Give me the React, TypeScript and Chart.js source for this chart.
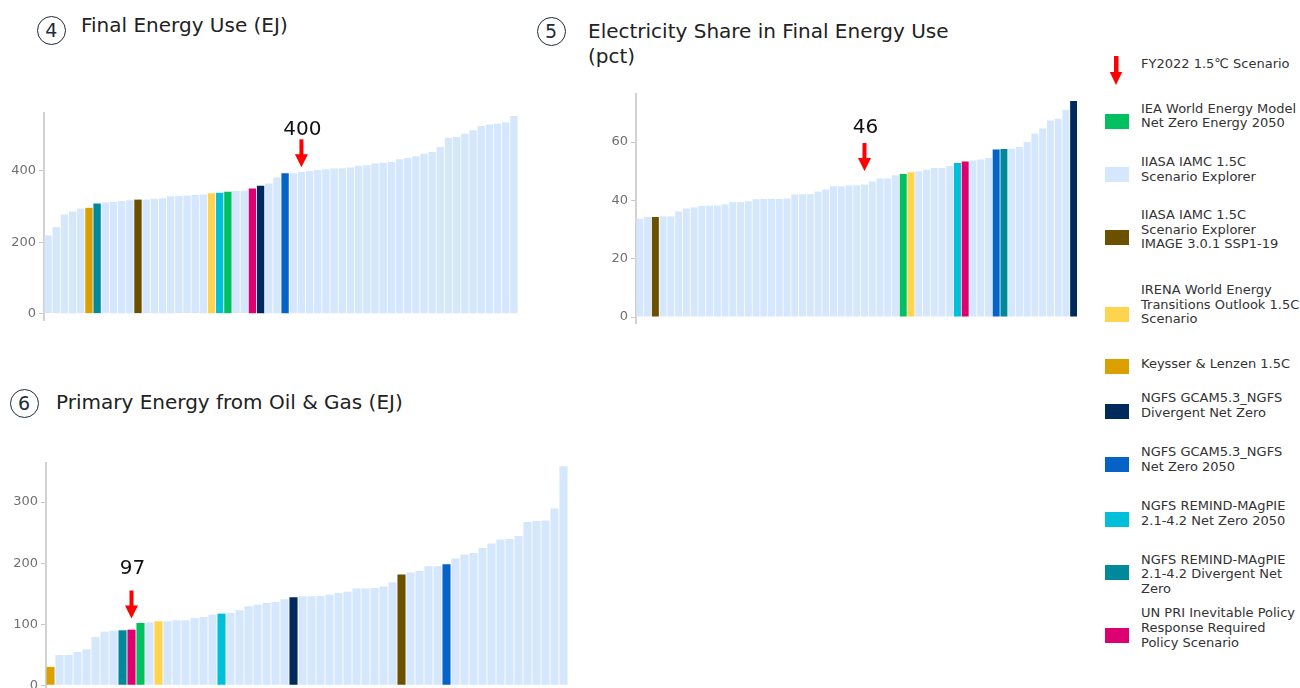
import React, { useEffect, useRef } from "react";
import { Chart, registerables } from "chart.js";

Chart.register(...registerables);

// ---------------- Data ----------------
const groupKeys = ["IEA", "IIASA", "IMAGE", "IRENA", "KEYSSER", "GCAM_DIV", "GCAM_NZ", "REMIND_NZ", "REMIND_DIV", "UNPRI"];
const groupLabels = [
  "IEA World Energy Model\nNet Zero Energy 2050",
  "IIASA IAMC 1.5C\nScenario Explorer",
  "IIASA IAMC 1.5C\nScenario Explorer\nIMAGE 3.0.1 SSP1-19",
  "IRENA World Energy\nTransitions Outlook 1.5C\nScenario",
  "Keysser & Lenzen 1.5C",
  "NGFS GCAM5.3_NGFS\nDivergent Net Zero",
  "NGFS GCAM5.3_NGFS\nNet Zero 2050",
  "NGFS REMIND-MAgPIE\n2.1-4.2 Net Zero 2050",
  "NGFS REMIND-MAgPIE\n2.1-4.2 Divergent Net\nZero",
  "UN PRI Inevitable Policy\nResponse Required\nPolicy Scenario",
];
const groupColors = ["#00c060", "#d5e7fc", "#6b5000", "#ffd54f", "#dba000", "#00295c", "#0563c8", "#00bfd8", "#00899a", "#dc0070"];
const markerLegendLabel = "FY2022 1.5℃ Scenario";

// ④ Final Energy Use (EJ)
const finalEnergyValues = [
  219, 242, 277, 286, 294, 296, 308, 311, 312, 315, 317, 319, 319, 321, 323, 328, 329, 330, 332, 333,
  337, 338, 341, 343, 344, 350, 358, 364, 381, 393, 393, 396, 399, 402, 404, 406, 407, 409, 414, 415,
  420, 422, 424, 432, 435, 440, 447, 452, 466, 492, 494, 503, 513, 525, 529, 531, 535, 553,
];
const finalEnergyGroups: Record<number, string> = {
  5: "KEYSSER", 6: "REMIND_DIV", 11: "IMAGE", 20: "IRENA", 21: "REMIND_NZ", 22: "IEA", 25: "UNPRI", 26: "GCAM_DIV", 29: "GCAM_NZ",
};
const finalEnergyTicks = [0, 200, 400];
const finalEnergyMarker = { index: 31, value: 400, label: "400" };

// ⑤ Electricity Share in Final Energy Use (pct)
const elecShareValues = [
  33.7, 34.3, 34.3, 34.5, 34.5, 36.2, 37.2, 37.6, 38.1, 38.2, 38.2, 38.6, 39.4, 39.4, 39.7, 40.4, 40.5, 40.5, 40.5, 40.6,
  42.0, 42.1, 42.1, 43.0, 43.7, 44.8, 44.8, 45.1, 45.2, 45.4, 46.5, 47.5, 47.5, 48.6, 49.0, 49.6, 50.0, 50.5, 51.1, 51.1,
  51.8, 52.8, 53.3, 53.7, 54.0, 54.5, 57.4, 57.6, 57.7, 58.3, 60.0, 62.9, 64.6, 67.4, 68.0, 71.1, 74.1,
];
const elecShareGroups: Record<number, string> = {
  2: "IMAGE", 34: "IEA", 35: "IRENA", 41: "REMIND_NZ", 42: "UNPRI", 46: "GCAM_NZ", 47: "REMIND_DIV", 56: "GCAM_DIV",
};
const elecShareTicks = [0, 20, 40, 60];
const elecShareMarker = { index: 29, value: 46, label: "46" };

// ⑥ Primary Energy from Oil & Gas (EJ)
const oilGasValues = [
  30, 49.6, 49.6, 54.5, 58.9, 79, 87.9, 89.5, 90, 91.1, 102, 103, 104.8, 104.8, 106.4, 106.4, 110.2, 111.8, 115.7, 117.3,
  118.4, 122.8, 129.3, 132, 134.8, 136.4, 140.8, 144, 145.7, 145.7, 146.2, 148.4, 151.1, 153.3, 158.3, 158.3, 159.3, 161.6, 168.6, 181.2,
  184.5, 187.1, 194.8, 194.8, 198.1, 207.4, 214, 216.6, 224.8, 232, 238.5, 239.5, 244.4, 267.3, 269, 270, 289.3, 358.5,
];
const oilGasGroups: Record<number, string> = {
  0: "KEYSSER", 8: "REMIND_DIV", 9: "UNPRI", 10: "IEA", 12: "IRENA", 19: "REMIND_NZ", 27: "GCAM_DIV", 39: "IMAGE", 44: "GCAM_NZ",
};
const oilGasTicks = [0, 100, 200, 300];
const oilGasMarker = { index: 9, value: 97, label: "97" };

// ---------------- Helpers ----------------
const FONT = '"DejaVu Sans", Verdana, sans-serif';
const colorOf = (key: string) => groupColors[groupKeys.indexOf(key)];

const markerPlugin = {
  id: "fyMarker",
  afterDatasetsDraw(chart: any, _args: any, opts: any) {
    if (!opts || opts.index == null) return;
    const meta = chart.getDatasetMeta(0);
    const el = meta.data[opts.index];
    if (!el) return;
    const x = el.x;
    const yv = chart.scales.y.getPixelForValue(opts.value);
    const tip = yv - opts.tipGap;
    const ctx = chart.ctx;
    ctx.save();
    ctx.fillStyle = "#ff0000";
    ctx.fillRect(x - 2, tip - 28, 4, 16);
    ctx.beginPath();
    ctx.moveTo(x - 6.5, tip - 13);
    ctx.lineTo(x + 6.5, tip - 13);
    ctx.lineTo(x, tip);
    ctx.closePath();
    ctx.fill();
    ctx.fillStyle = "#111111";
    ctx.font = `20px ${FONT}`;
    ctx.textAlign = "center";
    ctx.textBaseline = "alphabetic";
    ctx.fillText(opts.label, x + 1, yv - opts.labelGap);
    ctx.restore();
  },
};

type PanelProps = {
  values: number[];
  groups: Record<number, string>;
  yMin: number;
  yMax: number;
  ticks: number[];
  marker: { index: number; value: number; label: string };
  tipGap: number;
  labelGap: number;
  frame: { left: number; top: number; width: number; height: number };
};

const AXIS_W = 40;

function BarPanel(p: PanelProps) {
  const ref = useRef<HTMLCanvasElement>(null);
  useEffect(() => {
    const colors = p.values.map((_, i) => colorOf(p.groups[i] ?? "IIASA"));
    const chart = new Chart(ref.current as HTMLCanvasElement, {
      type: "bar",
      data: {
        labels: p.values.map((_, i) => `Scenario ${i + 1}`),
        datasets: [
          {
            data: p.values,
            backgroundColor: colors,
            borderWidth: 0,
            barPercentage: 0.9,
            categoryPercentage: 1,
          },
        ],
      },
      options: {
        animation: false,
        responsive: true,
        maintainAspectRatio: false,
        layout: { padding: 0 },
        plugins: {
          legend: { display: false },
          tooltip: { enabled: false },
          fyMarker: { ...p.marker, tipGap: p.tipGap, labelGap: p.labelGap },
        } as any,
        scales: {
          x: { display: false },
          y: {
            min: p.yMin,
            max: p.yMax,
            border: { display: true, color: "#d2d2d2", width: 2 },
            grid: { display: true, drawOnChartArea: false, drawTicks: true, tickLength: 5, color: "#c8c8c8" },
            ticks: {
              padding: 3,
              color: "#707070",
              font: { family: FONT, size: 13 },
            },
            afterBuildTicks: (s: any) => {
              s.ticks = p.ticks.map((v) => ({ value: v }));
            },
            afterFit: (s: any) => {
              s.width = AXIS_W;
              s.paddingTop = 0;
              s.paddingBottom = 0;
            },
          } as any,
        },
      },
      plugins: [markerPlugin],
    });
    return () => chart.destroy();
  }, []);
  const f = p.frame;
  return (
    <div style={{ position: "absolute", left: f.left - AXIS_W, top: f.top, width: f.width + AXIS_W, height: f.height }}>
      <canvas ref={ref} />
    </div>
  );
}

function Circled({ n, cx, cy }: { n: string; cx: number; cy: number }) {
  const d = 29;
  return (
    <div
      style={{
        position: "absolute",
        left: cx - d / 2,
        top: cy - d / 2,
        width: d,
        height: d,
        boxSizing: "border-box",
        border: "1.6px solid #1d2b3a",
        borderRadius: "50%",
        fontFamily: FONT,
        fontSize: 19,
        color: "#1d2b3a",
        display: "flex",
        alignItems: "center",
        justifyContent: "center",
        lineHeight: 1,
      }}
    >
      {n}
    </div>
  );
}

function Title({ text, left, top }: { text: string; left: number; top: number }) {
  return (
    <div
      style={{
        position: "absolute",
        left,
        top,
        fontFamily: FONT,
        fontSize: 20,
        lineHeight: "25px",
        color: "#222222",
        whiteSpace: "pre",
      }}
    >
      {text}
    </div>
  );
}

// legend layout (text top, swatch top) for each group, in legend order
const legendTextTops = [101.5, 155.4, 207.8, 282.8, 357, 391, 445, 499.4, 552.7, 606];
const legendSwatchTops = [114, 166.7, 230, 306.7, 359, 404, 456.7, 511.7, 565, 628.3];

function Legend() {
  const textStyle: React.CSSProperties = {
    position: "absolute",
    left: 1141,
    fontFamily: FONT,
    fontSize: 13,
    lineHeight: "14.8px",
    color: "#333333",
    whiteSpace: "pre",
  };
  return (
    <>
      <svg style={{ position: "absolute", left: 1109, top: 56 }} width={14} height={30}>
        <rect x={5} y={0} width={4.5} height={17} fill="#ff0000" />
        <polygon points="0.8,16 13.2,16 7,29" fill="#ff0000" />
      </svg>
      <div style={{ ...textStyle, top: 56.6 }}>{markerLegendLabel}</div>
      {groupKeys.map((k, i) => (
        <React.Fragment key={k}>
          <div
            style={{
              position: "absolute",
              left: 1105,
              top: legendSwatchTops[i],
              width: 24,
              height: 15,
              background: groupColors[i],
            }}
          />
          <div style={{ ...textStyle, top: legendTextTops[i] }}>{groupLabels[i]}</div>
        </React.Fragment>
      ))}
    </>
  );
}

export default function App() {
  return (
    <div
      style={{
        position: "fixed",
        left: 0,
        top: 0,
        width: 1300,
        height: 688,
        overflow: "hidden",
        background: "#ffffff",
      }}
    >
      <Circled n="4" cx={51.3} cy={30.8} />
      <Title text="Final Energy Use (EJ)" left={81} top={12.5} />
      <Circled n="5" cx={551} cy={31.5} />
      <Title text={"Electricity Share in Final Energy Use\n(pct)"} left={588} top={18.9} />
      <Circled n="6" cx={24} cy={403} />
      <Title text="Primary Energy from Oil & Gas (EJ)" left={56} top={389.6} />

      <BarPanel
        values={finalEnergyValues}
        groups={finalEnergyGroups}
        yMin={-22}
        yMax={564}
        ticks={finalEnergyTicks}
        marker={finalEnergyMarker}
        tipGap={3.3}
        labelGap={35.3}
        frame={{ left: 44, top: 111.7, width: 474, height: 209.5 }}
      />
      <BarPanel
        values={elecShareValues}
        groups={elecShareGroups}
        yMin={-2.4}
        yMax={76.8}
        ticks={elecShareTicks}
        marker={elecShareMarker}
        tipGap={11.8}
        labelGap={49.8}
        frame={{ left: 635.5, top: 92.7, width: 441.5, height: 231 }}
      />
      <BarPanel
        values={oilGasValues}
        groups={oilGasGroups}
        yMin={-13}
        yMax={365.6}
        ticks={oilGasTicks}
        marker={oilGasMarker}
        tipGap={7.5}
        labelGap={52.5}
        frame={{ left: 46, top: 461.7, width: 522, height: 231.2 }}
      />
      <Legend />
    </div>
  );
}
